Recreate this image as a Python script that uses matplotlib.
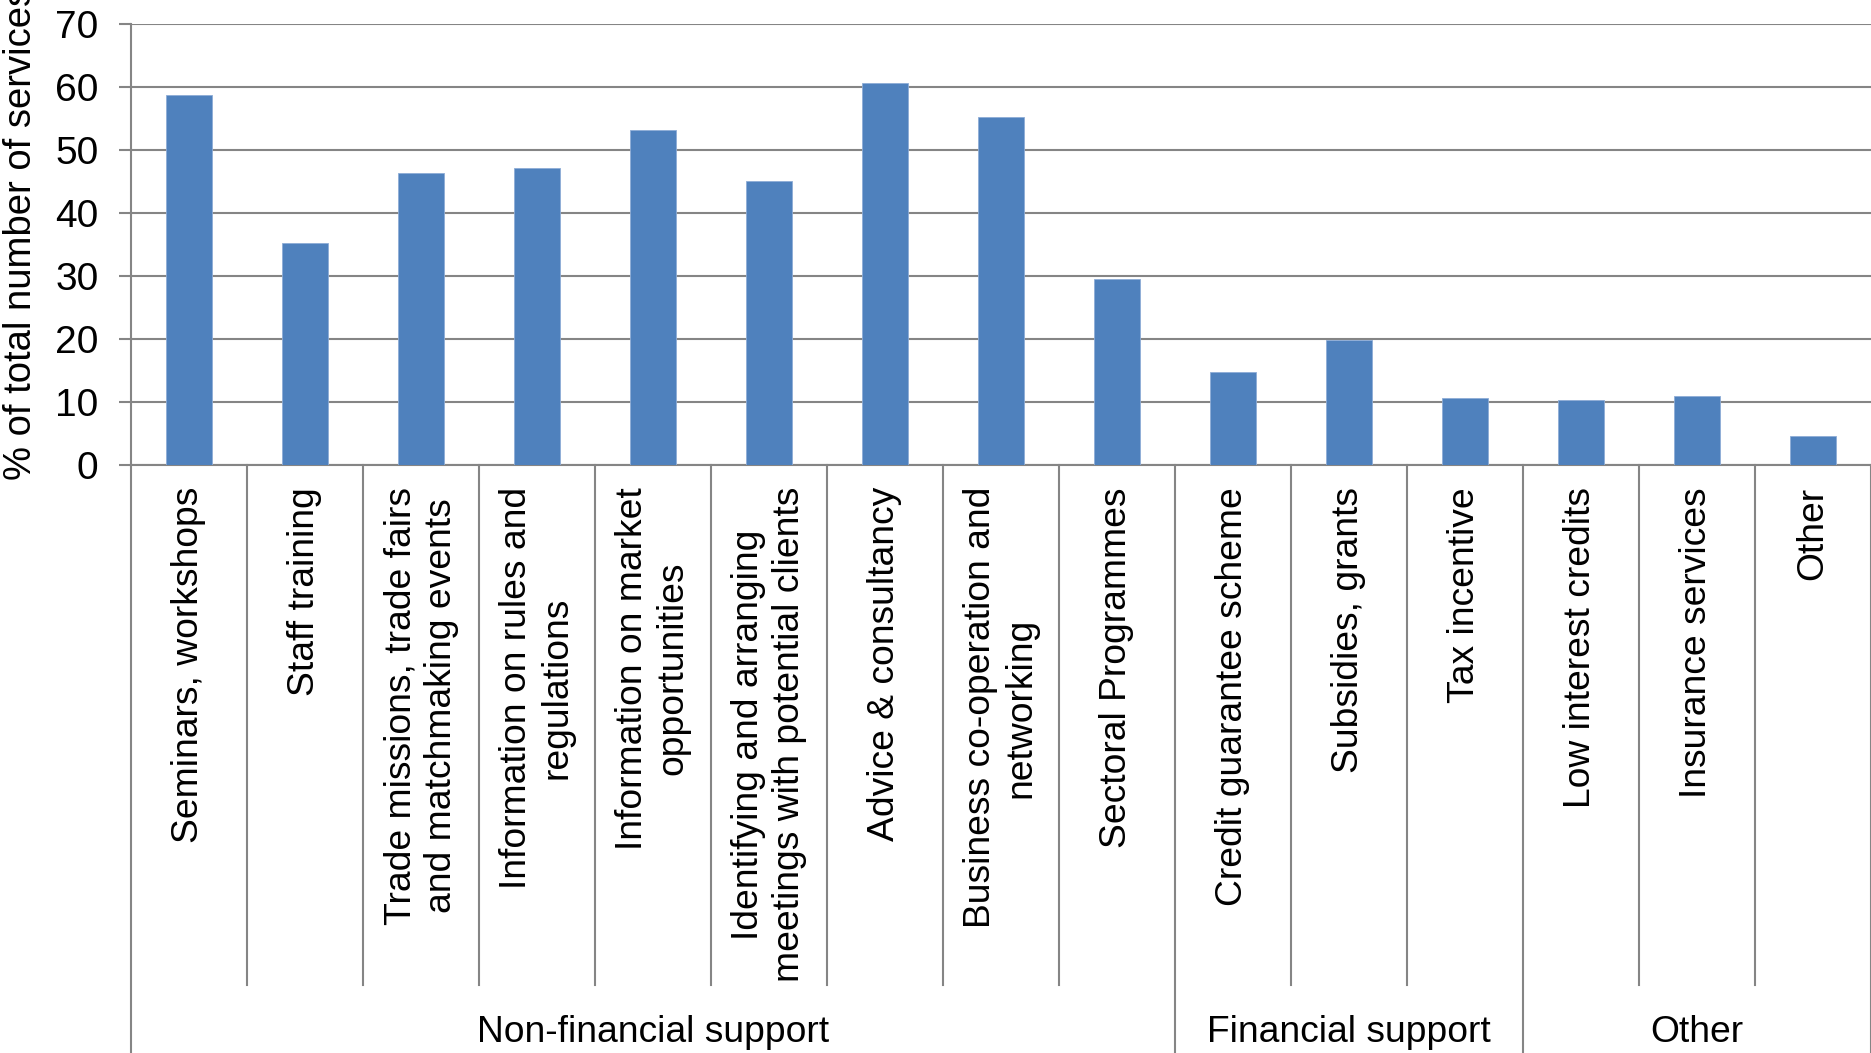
import matplotlib

matplotlib.use("Agg")
import matplotlib.pyplot as plt  # noqa: E402
import matplotlib.transforms as mtransforms  # noqa: E402

plt.rcParams["font.family"] = ["Liberation Sans", "DejaVu Sans"]

CATEGORIES = [
    "Seminars, workshops",
    "Staff training",
    "Trade missions, trade fairs\nand matchmaking events",
    "Information on rules and\nregulations",
    "Information on market\nopportunities",
    "Identifying and arranging\nmeetings with potential clients",
    "Advice & consultancy",
    "Business co-operation and\nnetworking",
    "Sectoral Programmes",
    "Credit guarantee scheme",
    "Subsidies, grants",
    "Tax incentive",
    "Low interest credits",
    "Insurance services",
    "Other",
]
SHARE = [58.8, 35.3, 46.4, 47.2, 53.2, 45.1, 60.7, 55.3, 29.5,
         14.7, 19.8, 10.6, 10.3, 10.9, 4.6]
GROUPS = ["Non-financial support", "Financial support", "Other"]
GROUP_SIZES = [9, 3, 3]
YTICKS = [0, 10, 20, 30, 40, 50, 60, 70]

BLUE = "#4f81bd"
GREY = "#858585"
FS = 26.8

W, H = 1871, 1053
fig = plt.figure(figsize=(W / 100, H / 100), dpi=100)
ax = fig.add_axes([131 / W, 1 - 465 / H, (W - 131) / W, (465 - 24) / H])

x = list(range(len(CATEGORIES)))
ax.bar(x, SHARE, width=0.4, color=BLUE, edgecolor="#8eacd6", linewidth=0.6, zorder=3)
ax.set_xlim(-0.5, len(CATEGORIES) - 0.5)
ax.set_ylim(0, 70)
ax.set_yticks(YTICKS)
ax.tick_params(axis="y", labelsize=28, length=8.5, width=1.5, color=GREY, pad=15)
ax.set_xticks([])
ax.grid(axis="y", color=GREY, lw=1.5, zorder=0)
for side in ("top", "right"):
    ax.spines[side].set_visible(False)
for side in ("left", "bottom"):
    ax.spines[side].set_color(GREY)
    ax.spines[side].set_linewidth(1.5)

fig.text(21 / W, 1 - 233 / H, "% of total number of services", rotation=90,
         ha="center", va="center", fontsize=27.5)

# category labels hang below the axis, separated by short dividers
trans = mtransforms.blended_transform_factory(ax.transData, ax.transAxes)
ax_h = 465 - 24
for i, name in enumerate(CATEGORIES):
    ax.text(i, -22 / ax_h, name, rotation=90, ha="center", va="top",
            multialignment="center", fontsize=FS, transform=trans)

group_edges = [-0.5]
for n in GROUP_SIZES:
    group_edges.append(group_edges[-1] + n)

for k in range(len(CATEGORIES) + 1):
    edge = k - 0.5
    bottom = -(H - 465) / ax_h if edge in group_edges else -(985 - 465) / ax_h
    ax.plot([edge, edge], [0, bottom], color=GREY, lw=1.5, transform=trans,
            clip_on=False)

for g, name in enumerate(GROUPS):
    mid = (group_edges[g] + group_edges[g + 1]) / 2
    ax.text(mid, -(1033 - 465) / ax_h, name, ha="center", va="center",
            fontsize=FS, transform=trans)

fig.savefig("out.png", dpi=100)
